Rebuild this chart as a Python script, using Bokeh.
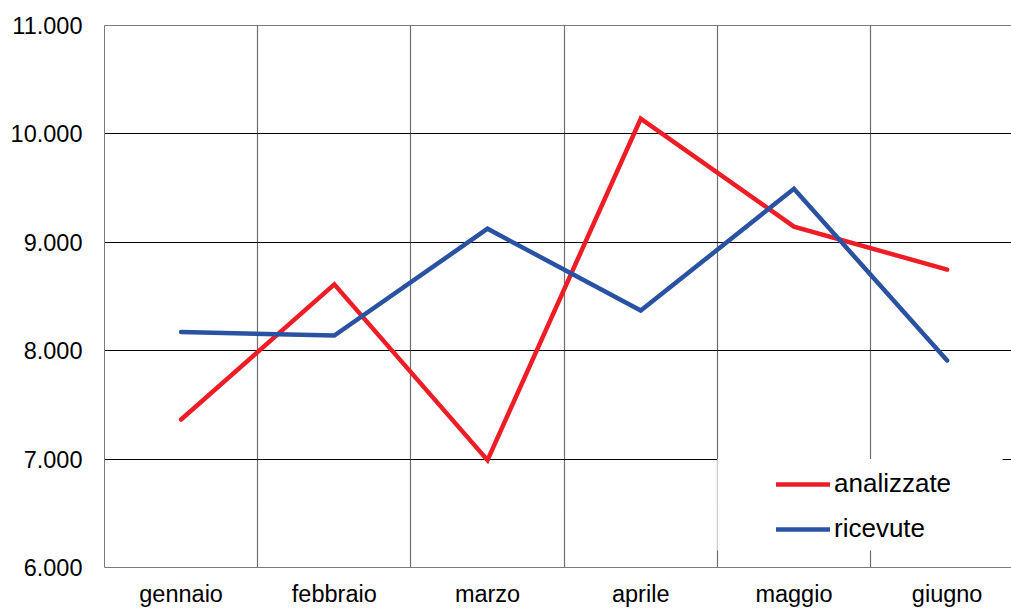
from bokeh.plotting import figure
from bokeh.models import FixedTicker, Legend, LegendItem, BoxAnnotation, Range1d, LinearAxis
from bokeh.embed import file_html
from bokeh.resources import INLINE

months = ["gennaio", "febbraio", "marzo", "aprile", "maggio", "giugno"]
analizzate = [7365, 8612, 6990, 10140, 9145, 8748]
ricevute = [8172, 8140, 9125, 8370, 9493, 7910]
y_ticks = [6000, 7000, 8000, 9000, 10000, 11000]
y_tick_labels = ["6.000", "7.000", "8.000", "9.000", "10.000", "11.000"]

FONT = "Liberation Sans"
RED = "#EE1D25"
BLUE = "#2A52A3"

xs = [i + 0.5 for i in range(len(months))]

p = figure(width=1011, height=609, output_backend="svg", toolbar_location=None,
           x_range=Range1d(0, 5.92), y_range=Range1d(6000, 11000),
           min_border_left=104, min_border_right=0, min_border_top=25, min_border_bottom=42)

p.outline_line_color = None
p.background_fill_color = "white"
p.border_fill_color = "white"

# top border as an unlabeled axis
top = LinearAxis(ticker=FixedTicker(ticks=[]), axis_line_color="#7a7a7a",
                 major_tick_line_color=None, minor_tick_line_color=None,
                 major_label_text_font_size="0px", major_tick_out=0, major_tick_in=0)
p.add_layout(top, "above")

xax = p.below[0]
yax = p.left[0]
xax.ticker = FixedTicker(ticks=xs)
xax.major_label_overrides = {x: m for x, m in zip(xs, months)}
yax.ticker = FixedTicker(ticks=y_ticks)
yax.major_label_overrides = {t: l for t, l in zip(y_ticks, y_tick_labels)}
for ax in (xax, yax):
    ax.major_tick_line_color = None
    ax.minor_tick_line_color = None
    ax.major_tick_out = 0
    ax.major_tick_in = 0
    ax.axis_line_color = "#7a7a7a"
    ax.major_label_text_font = FONT
    ax.major_label_text_font_size = "23.5px"
    ax.major_label_text_color = "#000000"
xax.major_label_standoff = 13
yax.major_label_standoff = 22

# grids
p.xgrid.ticker = FixedTicker(ticks=[1, 2, 3, 4, 5])
p.xgrid.grid_line_color = "#6e6e6e"
p.xgrid.grid_line_width = 1.2
p.ygrid.ticker = FixedTicker(ticks=y_ticks)
p.ygrid.grid_line_color = "#000000"
p.ygrid.grid_line_width = 1

r1 = p.line(xs, analizzate, line_color=RED, line_width=4.5, line_join="miter", line_cap="round")
r2 = p.line(xs, ricevute, line_color=BLUE, line_width=4.5, line_join="miter", line_cap="round")

# white legend background covering grid
box = BoxAnnotation(left=4.0, right=5.862, top=7000, bottom=6157,
                    fill_color="white", fill_alpha=1.0, line_color=None)
p.add_layout(box)

legend = Legend(items=[LegendItem(label="analizzate", renderers=[r1]),
                       LegendItem(label="ricevute", renderers=[r2])],
                location=(672, 23), padding=0, margin=0, spacing=14,
                glyph_width=54, glyph_height=30, label_height=30, label_standoff=4,
                label_text_font=FONT, label_text_font_size="26px", label_text_color="#000000",
                background_fill_alpha=0, border_line_color=None)
p.add_layout(legend)

open("out.html", "w").write(file_html(p, INLINE))
